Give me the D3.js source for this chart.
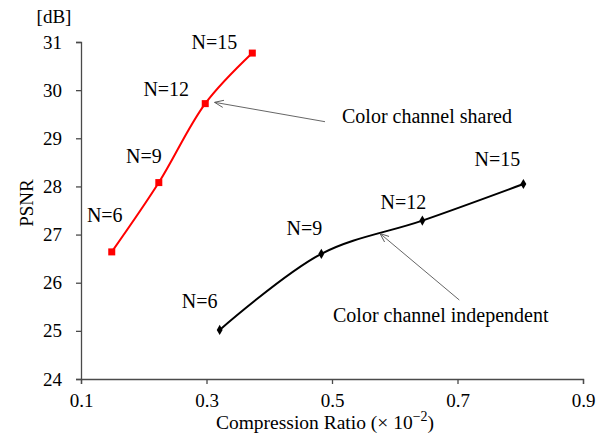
<!DOCTYPE html>
<html>
<head>
    <script src="https://d3js.org/d3.v7.min.js"></script>
    <style>
        body { margin: 0; background: white; }
    </style>
</head>
<body>
    <div id="chart"></div>
    <script>
        // Data
        const sharedRatio = [0.149, 0.224, 0.298, 0.373];
        const sharedPsnr = [26.64, 28.08, 29.72, 30.77];
        const indepRatio = [0.321, 0.483, 0.644, 0.805];
        const indepPsnr = [25.02, 26.60, 27.29, 28.05];
        const nLabels = ["N=6", "N=9", "N=12", "N=15"];
        const xTicks = [0.1, 0.3, 0.5, 0.7, 0.9];
        const yTicks = [24, 25, 26, 27, 28, 29, 30, 31];

        const width = 605, height = 437;
        const margin = { left: 81, right: 22, top: 42, bottom: 58 };
        const serif = "'Liberation Serif', 'Times New Roman', Times, 'DejaVu Serif', serif";

        const svg = d3.select("#chart").append("svg")
            .attr("width", width)
            .attr("height", height)
            .attr("font-family", serif);

        const x = d3.scaleLinear().domain([0.1, 0.9]).range([margin.left, width - margin.right]);
        const y = d3.scaleLinear().domain([24, 31]).range([height - margin.bottom, margin.top]);

        // axes
        const xAxis = svg.append("g")
            .attr("transform", `translate(0,${y(24)})`)
            .call(d3.axisBottom(x).tickValues(xTicks).tickFormat(d3.format(".1f")).tickSize(5).tickPadding(10));
        const yAxis = svg.append("g")
            .attr("transform", `translate(${x(0.1)},0)`)
            .call(d3.axisLeft(y).tickValues(yTicks).tickFormat(d3.format("d")).tickSize(5).tickPadding(14));
        [xAxis, yAxis].forEach(a => {
            a.attr("font-family", serif).attr("font-size", 19);
            a.select(".domain").attr("stroke", "#4a4a4a").attr("stroke-width", 1.3);
            a.selectAll(".tick line").attr("stroke", "#4a4a4a").attr("stroke-width", 1.3);
            a.selectAll("text").attr("fill", "#000");
        });

        // titles
        const xt = svg.append("text")
            .attr("x", 325).attr("y", 429)
            .attr("text-anchor", "middle")
            .attr("font-size", 19.5)
            .text("Compression Ratio (× 10");
        xt.append("tspan").attr("dy", -8).attr("font-size", 14).text("−2");
        xt.append("tspan").attr("dy", 8).text(")");

        svg.append("text")
            .attr("transform", "translate(33,203) rotate(-90)")
            .attr("text-anchor", "middle")
            .attr("font-size", 19)
            .text("PSNR");

        svg.append("text")
            .attr("x", 54).attr("y", 23)
            .attr("text-anchor", "middle")
            .attr("font-size", 19)
            .text("[dB]");

        const line = d3.line()
            .x(d => x(d[0]))
            .y(d => y(d[1]))
            .curve(d3.curveCatmullRom.alpha(0.5));

        const shared = sharedRatio.map((v, i) => [v, sharedPsnr[i]]);
        const indep = indepRatio.map((v, i) => [v, indepPsnr[i]]);

        svg.append("path").datum(shared)
            .attr("d", line).attr("fill", "none")
            .attr("stroke", "#ff0000").attr("stroke-width", 2);
        svg.append("path").datum(indep)
            .attr("d", line).attr("fill", "none")
            .attr("stroke", "#000").attr("stroke-width", 2);

        svg.selectAll(".sq").data(shared).enter().append("rect")
            .attr("x", d => x(d[0]) - 3.5).attr("y", d => y(d[1]) - 3.5)
            .attr("width", 7).attr("height", 7)
            .attr("fill", "#ff0000");
        svg.selectAll(".dm").data(indep).enter().append("path")
            .attr("d", d3.symbol(d3.symbolDiamond, 30))
            .attr("transform", d => `translate(${x(d[0])},${y(d[1])})`)
            .attr("fill", "#000");

        // N labels, offsets from each point
        const sharedOff = [[-7, -30], [-15, -20], [-39, -8], [-38, -4]];
        const indepOff = [[-20, -22], [-17, -19], [-19, -12], [-26, -18]];
        svg.selectAll(".ls").data(shared).enter().append("text")
            .attr("x", (d, i) => x(d[0]) + sharedOff[i][0])
            .attr("y", (d, i) => y(d[1]) + sharedOff[i][1])
            .attr("text-anchor", "middle")
            .attr("font-size", 20)
            .text((d, i) => nLabels[i]);
        svg.selectAll(".li").data(indep).enter().append("text")
            .attr("x", (d, i) => x(d[0]) + indepOff[i][0])
            .attr("y", (d, i) => y(d[1]) + indepOff[i][1])
            .attr("text-anchor", "middle")
            .attr("font-size", 20)
            .text((d, i) => nLabels[i]);

        // annotation arrows
        svg.append("defs").append("marker")
            .attr("id", "arrow")
            .attr("viewBox", "0 0 10 10")
            .attr("refX", 10).attr("refY", 5)
            .attr("markerWidth", 9).attr("markerHeight", 9)
            .attr("markerUnits", "userSpaceOnUse")
            .attr("orient", "auto")
            .append("path")
            .attr("d", "M0,1 L10,5 L0,9")
            .attr("fill", "none")
            .attr("stroke", "#555")
            .attr("stroke-width", 1);

        svg.append("line")
            .attr("x1", 325).attr("y1", 121.7)
            .attr("x2", 214.5).attr("y2", 102.3)
            .attr("stroke", "#555").attr("stroke-width", 0.9)
            .attr("marker-end", "url(#arrow)");
        svg.append("text")
            .attr("x", 342).attr("y", 123)
            .attr("font-size", 20)
            .text("Color channel shared");

        svg.append("line")
            .attr("x1", 459.3).attr("y1", 300)
            .attr("x2", 380).attr("y2", 233.5)
            .attr("stroke", "#555").attr("stroke-width", 0.9)
            .attr("marker-end", "url(#arrow)");
        svg.append("text")
            .attr("x", 333).attr("y", 322)
            .attr("font-size", 20)
            .text("Color channel independent");
    </script>
</body>
</html>
